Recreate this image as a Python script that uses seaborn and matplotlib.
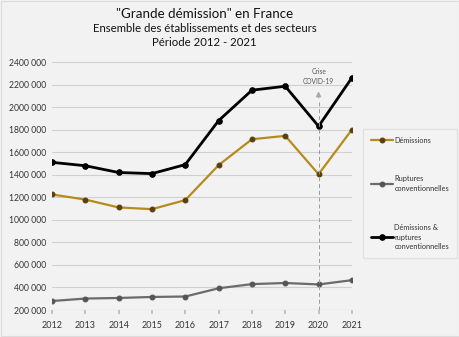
import matplotlib
matplotlib.use("Agg")
import matplotlib.pyplot as plt
import matplotlib.ticker as mticker
import seaborn as sns

years = [2012, 2013, 2014, 2015, 2016, 2017, 2018, 2019, 2020, 2021]
demissions = [1225000, 1180000, 1110000, 1095000, 1175000, 1485000, 1715000, 1745000, 1405000, 1800000]
ruptures = [280000, 302000, 307000, 316000, 320000, 393000, 430000, 440000, 427000, 465000]
total = [1510000, 1480000, 1420000, 1410000, 1490000, 1880000, 2150000, 2185000, 1830000, 2260000]
labels = ["Démissions", "Ruptures\nconventionnelles", "Démissions &\nruptures\nconventionnelles"]

sns.set_theme(style="white")
plt.rcParams["font.family"] = ["Lato", "DejaVu Sans"]
bg = "#f2f2f2"

fig = plt.figure(figsize=(4.6, 3.37), dpi=100, facecolor=bg)
ax = fig.add_axes([0.113, 0.080, 0.652, 0.736])
ax.set_facecolor(bg)

series = [
    (demissions, labels[0], "#b58b1c", "#5a3f0a", 1.6, 3.5),
    (ruptures, labels[1], "#6b6b6b", "#555555", 1.6, 3.5),
    (total, labels[2], "#000000", "#000000", 2.0, 4.0),
]
for vals, lab, col, mec, lw, ms in series:
    sns.lineplot(x=years, y=vals, ax=ax, color=col, lw=lw, marker="o",
                 markersize=ms, markeredgecolor=mec, markerfacecolor=mec,
                 label=lab, legend=False)

ax.set_xlim(2012, 2021)
ax.set_ylim(200000, 2400000)
ax.set_yticks(range(200000, 2400001, 200000))
ax.yaxis.set_major_formatter(mticker.FuncFormatter(
    lambda v, p: f"{int(v // 1000)} 000"))
ax.set_xticks(years)
ax.grid(axis="y", color="#d0d0d0", lw=0.8)
for s in ax.spines.values():
    s.set_visible(False)
ax.axhline(200000, color="#c8c8c8", lw=0.8)
ax.tick_params(axis="y", labelsize=6.2, colors="#333333", length=0, pad=4)
ax.tick_params(axis="x", labelsize=6.5, colors="#333333", length=3,
               color="#bbbbbb", bottom=True, pad=5)
ax.set_xlabel("")
ax.set_ylabel("")

# crise covid
ax.axvline(2020, ymin=0, ymax=0.845, color="#999999", lw=0.7, ls=(0, (4, 3)))
ax.annotate("", xy=(2020, 2165000), xytext=(2020, 2060000),
            arrowprops=dict(arrowstyle="-|>", color="#aaaaaa", lw=1.0, mutation_scale=7))
ax.text(2020, 2272000, "Crise\nCOVID-19", ha="center", va="center",
        fontsize=4.8, color="#555555", linespacing=1.5)

fig.text(0.445, 0.957, '"Grande démission" en France', ha="center", va="center",
         fontsize=9.6, color="#111111")
fig.text(0.445, 0.915, "Ensemble des établissements et des secteurs", ha="center",
         va="center", fontsize=8.2, color="#111111")
fig.text(0.445, 0.873, "Période 2012 - 2021", ha="center", va="center",
         fontsize=8.2, color="#111111")

handles, labs = ax.get_legend_handles_labels()
leg = fig.legend(handles, labs, loc="upper left", bbox_to_anchor=(0.79, 0.618),
                 fontsize=5.3, frameon=True, facecolor="#f4f4f4", edgecolor="#dddddd",
                 handlelength=2.9, handletextpad=0.2, labelspacing=4.3,
                 borderpad=1.1, borderaxespad=0, fancybox=False)
for t in leg.get_texts():
    t.set_color("#333333")
    t.set_linespacing(1.45)

fig.patches.append(plt.Rectangle((0.002, 0.003), 0.996, 0.994, transform=fig.transFigure,
                                 fill=False, edgecolor="#dcdcdc", lw=0.8))
fig.savefig("out.png", dpi=100, facecolor=bg)
